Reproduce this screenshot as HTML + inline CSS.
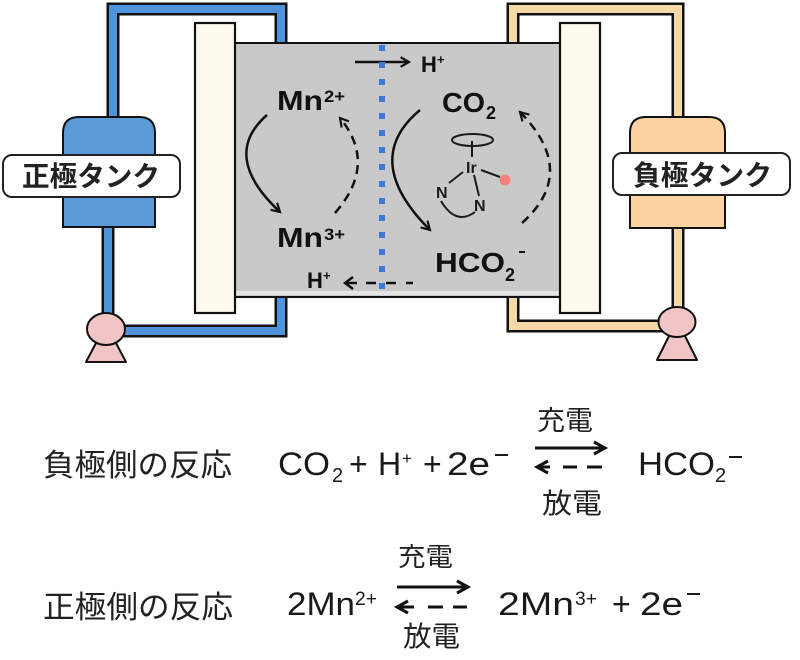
<!DOCTYPE html>
<html><head><meta charset="utf-8"><style>
html,body{margin:0;padding:0;background:#fff;}
svg{display:block;}
.b{font-family:"Liberation Sans","Noto Sans CJK JP",sans-serif;font-weight:bold;fill:#111;}
.r{font-family:"Liberation Sans","Noto Sans CJK JP",sans-serif;fill:#1a1a1a;}
.j{font-family:"Noto Sans CJK JP","Liberation Sans",sans-serif;fill:#222;}
</style></head><body>
<svg width="800" height="660" viewBox="0 0 800 660" xmlns="http://www.w3.org/2000/svg">
<defs>
<marker id="ah" viewBox="0 0 10 10" refX="8.5" refY="5" markerWidth="12" markerHeight="12" markerUnits="userSpaceOnUse" orient="auto">
<path d="M1.5,1 L8.5,5 L1.5,9" fill="none" stroke="#111" stroke-width="1.8" stroke-linejoin="miter"/>
</marker>
</defs>
<rect width="800" height="660" fill="#fff"/>

<!-- left pipes -->
<g fill="none" stroke-linejoin="miter" stroke-linecap="butt">
<polyline points="113,120 113,9 281,9 281,45" stroke="#111" stroke-width="13"/>
<polyline points="113,120 113,9 281,9 281,45" stroke="#4f93db" stroke-width="8"/>
<polyline points="108,225 108,331 281,331 281,295" stroke="#111" stroke-width="13"/>
<polyline points="108,225 108,331 281,331 281,295" stroke="#4f93db" stroke-width="8"/>
<!-- right pipes -->
<polyline points="513,45 513,9 678,9 678,120" stroke="#111" stroke-width="13"/>
<polyline points="513,45 513,9 678,9 678,120" stroke="#f9d8a8" stroke-width="8"/>
<polyline points="678,225 678,326 513,326 513,295" stroke="#111" stroke-width="13"/>
<polyline points="678,225 678,326 513,326 513,295" stroke="#f9d8a8" stroke-width="8"/>
</g>

<!-- tanks -->
<path d="M63,227 L63,133 Q63,117 79,117 L139,117 Q155,117 155,133 L155,227 Z" fill="#5b9bd6" stroke="#111" stroke-width="2"/>
<rect x="3" y="155" width="177" height="42" rx="9" fill="#fff" stroke="#222" stroke-width="2"/>
<text class="j" x="22" y="186" font-size="28" font-weight="bold" textLength="138" lengthAdjust="spacingAndGlyphs">正極タンク</text>

<path d="M630,228 L630,133 Q630,117 646,117 L709,117 Q725,117 725,133 L725,228 Z" fill="#fbd4a2" stroke="#111" stroke-width="2"/>
<rect x="613" y="153" width="177" height="42" rx="9" fill="#fff" stroke="#222" stroke-width="2"/>
<text class="j" x="633" y="185" font-size="28" font-weight="bold" textLength="139" lengthAdjust="spacingAndGlyphs">負極タンク</text>

<!-- pumps -->
<polygon points="86,362 126,362 106,324" fill="#f2c5c5" stroke="#111" stroke-width="2" stroke-linejoin="round"/>
<ellipse cx="106" cy="329" rx="19" ry="16" fill="#f2c5c5" stroke="#111" stroke-width="2"/>
<polygon points="657,360 697,360 677,320" fill="#f2c5c5" stroke="#111" stroke-width="2" stroke-linejoin="round"/>
<ellipse cx="677" cy="322" rx="18.5" ry="15" fill="#f2c5c5" stroke="#111" stroke-width="2"/>

<!-- cell -->
<rect x="233" y="43" width="329" height="254" fill="#c9c9c9" stroke="#111" stroke-width="2"/>
<rect x="234" y="291" width="327" height="4" fill="#e4e4e4"/>

<!-- electrodes -->
<rect x="195" y="23" width="40" height="290" fill="#fdf9ec" stroke="#111" stroke-width="2.2"/>
<rect x="560" y="23" width="40" height="290" fill="#fdf9ec" stroke="#111" stroke-width="2.2"/>

<!-- arrows in cell -->
<g fill="none" stroke="#111" stroke-width="2.5">
<line x1="355" y1="62" x2="409" y2="62" marker-end="url(#ah)"/>
<path d="M267,115 Q220,156 280,212" marker-end="url(#ah)"/>
<path d="M335,213 Q378,164 340,118" stroke-dasharray="9 6" marker-end="url(#ah)"/>
<path d="M420,110 Q360,160 430,230" marker-end="url(#ah)"/>
<path d="M522,223 Q579,172 520,112" stroke-dasharray="9 6" marker-end="url(#ah)"/>
<polyline points="353,277 345,283 353,289"/>
<line x1="345" y1="283" x2="357" y2="283"/>
<line x1="366" y1="283" x2="376" y2="283"/>
<line x1="386" y1="283" x2="396" y2="283"/>
<line x1="406" y1="283" x2="413" y2="283"/>
</g>

<!-- blue membrane -->
<line x1="382" y1="45" x2="382" y2="298" stroke="#3b7ad9" stroke-width="6" stroke-dasharray="6 11"/>

<!-- cell labels -->
<text class="b" x="277" y="110" font-size="28" textLength="46" lengthAdjust="spacingAndGlyphs">Mn</text>
<text class="b" x="324" y="102" font-size="17" textLength="21" lengthAdjust="spacingAndGlyphs">2+</text>
<text class="b" x="277" y="247" font-size="28" textLength="46" lengthAdjust="spacingAndGlyphs">Mn</text>
<text class="b" x="324" y="240" font-size="17" textLength="21" lengthAdjust="spacingAndGlyphs">3+</text>
<text class="b" x="421" y="72" font-size="22">H</text>
<text class="b" x="437" y="64" font-size="13">+</text>
<text class="b" x="307" y="288" font-size="22">H</text>
<text class="b" x="323" y="280" font-size="13">+</text>
<text class="b" x="442" y="112" font-size="28" textLength="43" lengthAdjust="spacingAndGlyphs">CO</text>
<text class="b" x="486" y="119" font-size="18">2</text>
<text class="b" x="435" y="272" font-size="28" textLength="70" lengthAdjust="spacingAndGlyphs">HCO</text>
<text class="b" x="505" y="281" font-size="18">2</text>
<line x1="519" y1="252" x2="525" y2="252" stroke="#111" stroke-width="2"/>

<!-- Ir complex -->
<g fill="none" stroke="#1a1a1a" stroke-width="2">
<ellipse cx="472.5" cy="140" rx="20.5" ry="6"/>
<line x1="472" y1="141" x2="472" y2="157"/>
<line x1="463" y1="172" x2="449" y2="183"/>
<line x1="474" y1="175" x2="479" y2="196"/>
<line x1="481" y1="170" x2="500" y2="177"/>
<path d="M441,201 Q456,226 475,212"/>
</g>
<circle cx="505" cy="180" r="5.5" fill="#f47f7f"/>
<text class="r" x="466" y="173" font-size="16" font-weight="bold">Ir</text>
<text class="r" x="436" y="198" font-size="16" font-weight="bold">N</text>
<text class="r" x="474" y="211" font-size="16" font-weight="bold">N</text>

<!-- equation row 1 -->
<text class="j" x="43" y="476" font-size="31" textLength="189" lengthAdjust="spacingAndGlyphs">負極側の反応</text>
<text class="r" x="278" y="475" font-size="32" textLength="52" lengthAdjust="spacingAndGlyphs">CO</text>
<text class="r" x="332" y="482" font-size="20">2</text>
<text class="r" x="349" y="475" font-size="32">+</text>
<text class="r" x="378" y="475" font-size="32">H</text>
<text class="r" x="402" y="464" font-size="17">+</text>
<text class="r" x="423" y="475" font-size="32">+</text>
<text class="r" x="447" y="475" font-size="32" textLength="43" lengthAdjust="spacingAndGlyphs">2e</text>
<line x1="495" y1="455" x2="508" y2="455" stroke="#1a1a1a" stroke-width="2"/>
<text class="j" x="537" y="430" font-size="27" textLength="56" lengthAdjust="spacingAndGlyphs">充電</text>
<text class="j" x="542" y="513" font-size="28" textLength="60" lengthAdjust="spacingAndGlyphs">放電</text>
<g stroke="#111" stroke-width="3" fill="none">
<line x1="535" y1="448" x2="603" y2="448"/>
<polyline points="594,442 605,448 594,454"/>
<polyline points="548,461 537,467 548,473"/>
<line x1="537" y1="467" x2="550" y2="467"/>
<line x1="563" y1="467" x2="577" y2="467"/>
<line x1="587" y1="467" x2="602" y2="467"/>
</g>
<text class="r" x="638" y="475" font-size="32" textLength="77" lengthAdjust="spacingAndGlyphs">HCO</text>
<text class="r" x="715" y="482" font-size="20">2</text>
<line x1="729" y1="457" x2="742" y2="457" stroke="#1a1a1a" stroke-width="2"/>

<!-- equation row 2 -->
<text class="j" x="43" y="618" font-size="31" textLength="190" lengthAdjust="spacingAndGlyphs">正極側の反応</text>
<text class="r" x="287" y="615" font-size="32" textLength="68" lengthAdjust="spacingAndGlyphs">2Mn</text>
<text class="r" x="355" y="605" font-size="19" textLength="22" lengthAdjust="spacingAndGlyphs">2+</text>
<text class="j" x="398" y="566" font-size="26" textLength="55" lengthAdjust="spacingAndGlyphs">充電</text>
<text class="j" x="403" y="646" font-size="28" textLength="57" lengthAdjust="spacingAndGlyphs">放電</text>
<g stroke="#111" stroke-width="3" fill="none">
<line x1="397" y1="587" x2="466" y2="587"/>
<polyline points="457,581 468,587 457,593"/>
<polyline points="408,601 397,607 408,613"/>
<line x1="397" y1="607" x2="414" y2="607"/>
<line x1="428" y1="607" x2="443" y2="607"/>
<line x1="453" y1="607" x2="467" y2="607"/>
</g>
<text class="r" x="498" y="615" font-size="32" textLength="76" lengthAdjust="spacingAndGlyphs">2Mn</text>
<text class="r" x="575" y="605" font-size="19" textLength="22" lengthAdjust="spacingAndGlyphs">3+</text>
<text class="r" x="612" y="615" font-size="32">+</text>
<text class="r" x="640" y="615" font-size="32" textLength="43" lengthAdjust="spacingAndGlyphs">2e</text>
<line x1="687" y1="594" x2="700" y2="594" stroke="#1a1a1a" stroke-width="2"/>
</svg>
</body></html>
